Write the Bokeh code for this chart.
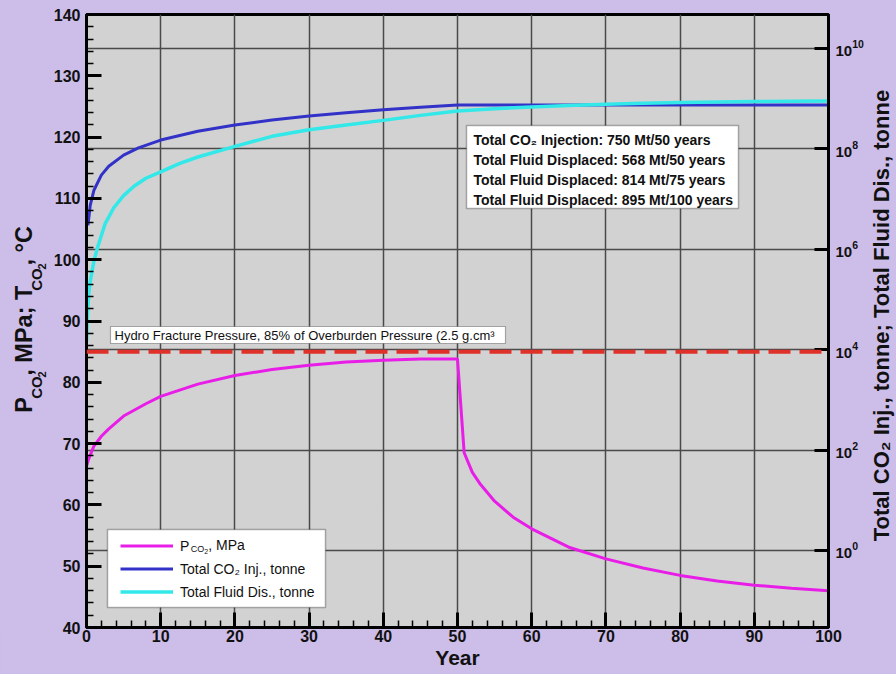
import math
from bokeh.plotting import figure
from bokeh.layouts import row
from bokeh.models import (Range1d, LogScale, LogAxis, FixedTicker, Grid, Span,
                          BoxAnnotation, Label, Legend, LegendItem, ColumnDataSource)
from bokeh.embed import file_html
from bokeh.resources import INLINE

# ---------------- data ----------------
years_p = [0, 0.3, 1, 2, 3, 5, 8, 10, 15, 20, 25, 30, 35, 40, 45, 50,
           50.9, 52, 53, 55, 57.5, 60, 65, 70, 75, 80, 85, 90, 95, 100]
p_co2 = [66.3, 67.5, 69.6, 71.2, 72.4, 74.5, 76.5, 77.7, 79.7, 81.1, 82.1, 82.8, 83.3, 83.6, 83.8, 83.8,
         68.5, 65.3, 63.5, 60.6, 58.0, 56.1, 53.1, 51.2, 49.7, 48.5, 47.6, 46.9, 46.4, 46.0]

years_inj = [0.2, 0.5, 1, 2, 3, 5, 7, 10, 15, 20, 25, 30, 35, 40, 45, 50, 60, 70, 80, 90, 100]
co2_inj = [3.0e6, 7.5e6, 1.5e7, 3.0e7, 4.5e7, 7.5e7, 1.05e8, 1.5e8, 2.25e8, 3.0e8, 3.75e8,
           4.5e8, 5.25e8, 6.0e8, 6.75e8, 7.5e8, 7.5e8, 7.5e8, 7.5e8, 7.5e8, 7.5e8]

years_fd = [0.02, 0.1, 0.3, 0.5, 1, 1.5, 2.5, 3.7, 5, 6.4, 8, 10, 12.5, 15, 20, 25, 30, 35,
            40, 45, 50, 55, 60, 65, 70, 75, 80, 85, 90, 95, 100]
fluid_dis = [1.5e4, 4.0e4, 1.3e5, 2.3e5, 5.8e5, 1.1e6, 3.2e6, 6.8e6, 1.17e7, 1.8e7, 2.6e7, 3.5e7,
             5.1e7, 6.9e7, 1.12e8, 1.78e8, 2.4e8, 3.0e8, 3.7e8, 4.65e8, 5.68e8, 6.3e8, 6.85e8,
             7.35e8, 7.78e8, 8.14e8, 8.4e8, 8.61e8, 8.76e8, 8.87e8, 8.95e8]

frac_pressure = 85.0
x_ticks = [0, 10, 20, 30, 40, 50, 60, 70, 80, 90, 100]
x_minor = list(range(0, 101, 2))
left_ticks = [40, 50, 60, 70, 80, 90, 100, 110, 120, 130, 140]
left_minor = list(range(40, 141, 2))
right_ticks = [1e0, 1e2, 1e4, 1e6, 1e8, 1e10]

summary_lines = ["Total CO\u2082 Injection: 750 Mt/50 years",
                 "Total Fluid Displaced: 568 Mt/50 years",
                 "Total Fluid Displaced: 814 Mt/75 years",
                 "Total Fluid Displaced: 895 Mt/100 years"]
frac_text = "Hydro Fracture Pressure, 85% of Overburden Pressure (2.5 g.cm\u00b3"
right_title = "Total CO\u2082 Inj., tonne; Total Fluid Dis., tonne"

# ---------------- styling ----------------
X0, X1 = 0, 100
Y0, Y1 = 40, 140
R0, R1 = 10 ** -1.534, 10 ** 10.677
BG = "#cdbde9"
FONT = "Liberation Sans"
INK = "#111111"
MAGENTA = "#e81ee8"
BLUE = "#3232c8"
CYAN = "#33e8e8"
RED = "#e0302a"
GRID = "#4a4a4a"

W, H = 896, 674
LW, RX = 50, 868               # left title strip width, start of right title strip
FL, FR, FT, FB = 86, 828, 14, 627   # plot frame edges on the page (px)
STRIP_DY = 15                  # vertical correction for rotated titles in the strips


def px2x(px):
    return X0 + (px - FL) / (FR - FL) * (X1 - X0)


def py2y(py):
    return Y1 - (py - FT) / (FB - FT) * (Y1 - Y0)


def strip(x0, x1):
    f = figure(width=x1 - x0, height=H, x_range=Range1d(x0, x1), y_range=Range1d(H, 0),
               output_backend="svg", toolbar_location=None, x_axis_type=None, y_axis_type=None,
               min_border=0)
    f.background_fill_color = BG
    f.border_fill_color = BG
    f.outline_line_color = None
    f.grid.visible = False
    return f


# ---------------- main plot ----------------
p = figure(width=RX - LW, height=H, x_range=Range1d(X0, X1), y_range=Range1d(Y0, Y1),
           output_backend="svg", toolbar_location=None,
           min_border_left=FL - LW, min_border_right=RX - FR, min_border_top=FT,
           min_border_bottom=H - FB)
p.background_fill_color = "#d2d2d2"
p.border_fill_color = BG
p.outline_line_color = "black"
p.outline_line_width = 3

p.extra_y_ranges = {"log": Range1d(R0, R1)}
p.extra_y_scales = {"log": LogScale()}

for ax, ticks, minor in ((p.xaxis[0], x_ticks, x_minor), (p.yaxis[0], left_ticks, left_minor)):
    ax.ticker = FixedTicker(ticks=ticks, minor_ticks=minor)
    ax.axis_line_width = 3
    ax.major_tick_in = 15
    ax.major_tick_out = 0
    ax.minor_tick_in = 7
    ax.minor_tick_out = 0
    ax.major_tick_line_width = 3
    ax.minor_tick_line_width = 1.5
    ax.major_label_text_font = FONT
    ax.major_label_text_font_style = "bold"
    ax.major_label_text_font_size = "16px"
    ax.major_label_text_color = INK
p.xaxis.major_label_standoff = 2
p.yaxis.major_label_standoff = 6
p.xaxis.axis_label = "Year"
p.xaxis.axis_label_text_font = FONT
p.xaxis.axis_label_text_font_size = "21px"
p.xaxis.axis_label_text_font_style = "bold"
p.xaxis.axis_label_text_color = INK
p.xaxis.axis_label_standoff = 1

ax_r = LogAxis(y_range_name="log", ticker=FixedTicker(ticks=right_ticks, minor_ticks=[]))
ax_r.axis_line_width = 3
ax_r.major_tick_in = 14
ax_r.major_tick_out = 0
ax_r.minor_tick_in = 0
ax_r.minor_tick_out = 0
ax_r.major_tick_line_width = 3
ax_r.major_label_text_font = FONT
ax_r.major_label_text_font_style = "bold"
ax_r.major_label_text_font_size = "15px"
ax_r.major_label_text_color = INK
ax_r.major_label_standoff = 7
p.add_layout(ax_r, "right")

p.xgrid.ticker = FixedTicker(ticks=x_ticks)
p.xgrid.grid_line_color = GRID
p.xgrid.grid_line_width = 1.5
p.ygrid.visible = False
p.add_layout(Grid(dimension=1, axis=ax_r, y_range_name="log", grid_line_color=GRID,
                  grid_line_width=1.5))

src_p = ColumnDataSource(dict(x=years_p, y=p_co2))
src_i = ColumnDataSource(dict(x=years_inj, y=co2_inj))
src_f = ColumnDataSource(dict(x=years_fd, y=fluid_dis))
r_inj = p.line("x", "y", source=src_i, y_range_name="log", line_color=BLUE, line_width=3)
r_fd = p.line("x", "y", source=src_f, y_range_name="log", line_color=CYAN, line_width=3.5)
r_p = p.line("x", "y", source=src_p, line_color=MAGENTA, line_width=3)

p.add_layout(Span(location=frac_pressure, dimension="width", line_color=RED, line_width=4,
                  line_dash="22 9"))

# hydro fracture label
p.add_layout(BoxAnnotation(left=px2x(110), right=px2x(505), top=py2y(326), bottom=py2y(343),
                           fill_color="white", fill_alpha=1, line_color="black", line_width=1.2))
p.add_layout(Label(x=px2x(114), y=py2y(334.5), text=frac_text, text_font=FONT,
                   text_font_size="13px", text_baseline="middle", text_color=INK))

# summary box
p.add_layout(BoxAnnotation(left=px2x(466), right=px2x(738), top=py2y(125), bottom=py2y(208),
                           fill_color="white", fill_alpha=1, line_color="black", line_width=1.5))
for i, t in enumerate(summary_lines):
    p.add_layout(Label(x=px2x(473), y=py2y(139 + 20 * i), text=t, text_font=FONT,
                       text_font_size="14px", text_font_style="bold", text_baseline="middle",
                       text_color=INK))

# legend: white box behind a transparent legend, subscript pieces on top
p.add_layout(BoxAnnotation(left=px2x(107), right=px2x(325), top=py2y(529), bottom=py2y(607),
                           fill_color="white", fill_alpha=1, line_color="black", line_width=1.5))
legend = Legend(items=[LegendItem(label="P", renderers=[r_p]),
                       LegendItem(label="Total CO\u2082 Inj., tonne", renderers=[r_inj]),
                       LegendItem(label="Total Fluid Dis., tonne", renderers=[r_fd])],
                location=(34, 27), padding=8, spacing=6, margin=0, glyph_width=53,
                glyph_height=17, label_height=17, label_standoff=7,
                label_text_font=FONT, label_text_font_size="14px", label_text_color=INK,
                border_line_color=None, background_fill_alpha=0)
p.add_layout(legend)
for txt, fs, px, py in (("CO", 9, 190.3, 548), ("2", 7, 203.8, 550.5), (", MPa", 14, 207.7, 544)):
    p.add_layout(Label(x=px2x(px), y=py2y(py), text=txt, text_font=FONT, text_font_size=f"{fs}px",
                       text_baseline="middle", text_color=INK))

# ---------------- left title strip: P_CO2, MPa; T_CO2, °C ----------------
left = strip(0, LW)
pieces = [("P", 23.5, 32, 0.667), ("CO", 15, 41, 0.75), ("2", 11, 45.5, 0.556),
          (", MPa; T", 23.5, 32, 0.47925), ("CO", 15, 41, 0.75), ("2", 11, 45.5, 0.556),
          (", \u00b0C", 23.5, 32, 0.4195)]
cur_y = 422
for txt, fs, bx, em in pieces:
    w = em * fs * len(txt)
    left.add_layout(Label(x=bx - 0.3465 * fs, y=cur_y - w / 2 + STRIP_DY, text=txt,
                          angle=math.pi / 2, text_font=FONT, text_font_size=f"{fs}px",
                          text_font_style="bold", text_align="center", text_baseline="middle",
                          text_color=INK))
    cur_y -= w

# ---------------- right title strip ----------------
right = strip(RX, W)
right.add_layout(Label(x=889 - 0.3465 * 22, y=316 + STRIP_DY, text=right_title, angle=math.pi / 2,
                       text_font=FONT, text_font_size="22px", text_font_style="bold",
                       text_align="center", text_baseline="middle", text_color=INK))

layout = row(left, p, right, spacing=0, styles={"background-color": BG})
open("out.html", "w").write(file_html(layout, INLINE))
